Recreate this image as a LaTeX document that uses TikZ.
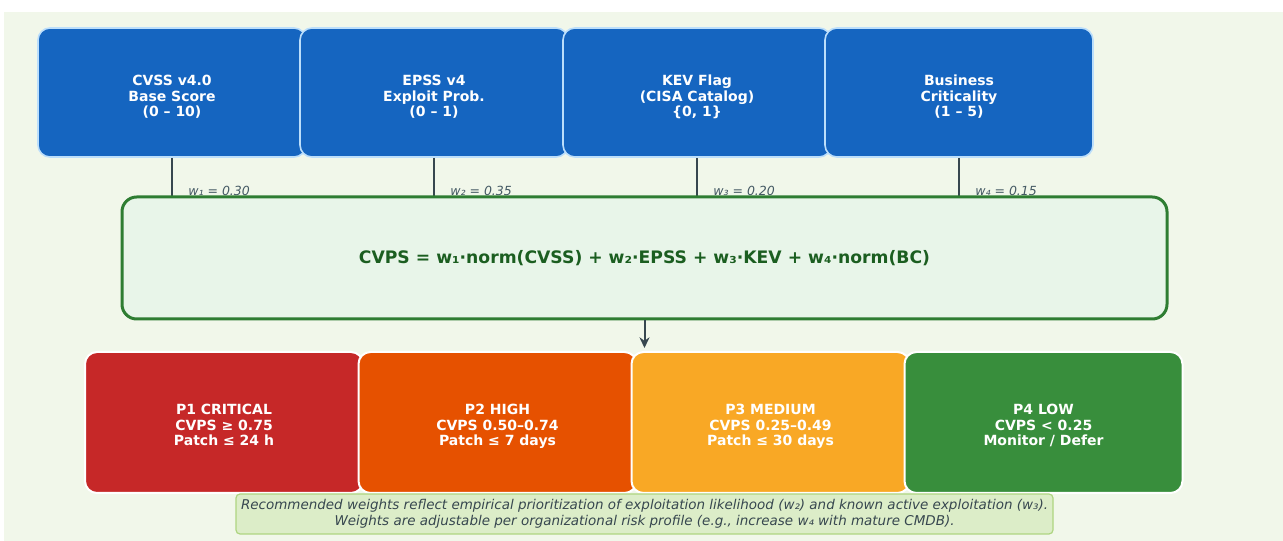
\documentclass[tikz,border=0pt]{standalone}
\usepackage{fontspec}
\setmainfont{DejaVu Sans}
\usetikzlibrary{arrows.meta}

\definecolor{bgc}{HTML}{F1F7EA}
\definecolor{inblue}{HTML}{1565C0}
\definecolor{inedge}{HTML}{BBDEFB}
\definecolor{slate}{HTML}{37474F}
\definecolor{labgray}{HTML}{455A64}
\definecolor{fmfill}{HTML}{E8F5E9}
\definecolor{fmedge}{HTML}{2E7D32}
\definecolor{fmtext}{HTML}{1B5E20}
\definecolor{pone}{HTML}{C62828}
\definecolor{ptwo}{HTML}{E65100}
\definecolor{pthree}{HTML}{F9A825}
\definecolor{pfour}{HTML}{388E3C}
\definecolor{notefill}{HTML}{DCEDC8}
\definecolor{noteedge}{HTML}{AED581}

\tikzset{
  inputbox/.style={fill=inblue, draw=inedge, line width=1.2pt, rounded corners=9pt,
    minimum width=201pt, minimum height=96.75pt, inner sep=0pt},
  formulabox/.style={fill=fmfill, draw=fmedge, line width=2.25pt, rounded corners=11pt,
    minimum width=783.75pt, minimum height=91.5pt, inner sep=0pt,
    text=fmtext, font=\bfseries\fontsize{12.9}{15}\selectfont},
  prioritybox/.style={draw=white, line width=1.5pt, rounded corners=9pt,
    minimum width=208.5pt, minimum height=105.75pt, inner sep=0pt},
  boxtext/.style={anchor=base, inner sep=0pt, align=center, text=white,
    font=\bfseries\fontsize{10.5}{11.8}\selectfont},
  weightlabel/.style={anchor=base west, inner sep=0pt, text=labgray,
    font=\itshape\fontsize{9.4}{11}\selectfont},
  feed/.style={draw=slate, line width=1.5pt},
  notebox/.style={fill=notefill, draw=noteedge, line width=0.9pt, rounded corners=3pt,
    minimum width=612.75pt, minimum height=30pt, inner sep=0pt, align=center,
    text=slate, font=\itshape\fontsize{10.1}{12}\selectfont}
}

\begin{document}
\begin{tikzpicture}[x=0.75pt, y=-0.75pt]
\useasboundingbox (0,0) rectangle (1283,541);
\fill[bgc] (4,12) rectangle (1283,541);

% input factors; text hangs from the last line's baseline so every box lines up
\node[inputbox] (in1) at (172,92.5) {};
\node[boxtext] (in1t) at (in1 |- 0,117) {CVSS v4.0\\Base Score\\(0 – 10)};
\node[inputbox] (in2) at (434,92.5) {};
\node[boxtext] (in2t) at (in2 |- 0,117) {EPSS v4\\Exploit Prob.\\(0 – 1)};
\node[inputbox] (in3) at (697,92.5) {};
\node[boxtext] (in3t) at (in3 |- 0,117) {KEV Flag\\(CISA Catalog)\\\{0, 1\}};
\node[inputbox] (in4) at (959,92.5) {};
\node[boxtext] (in4t) at (in4 |- 0,117) {Business\\Criticality\\(1 – 5)};

% weight labels (tucked under the formula box edge)
\node[weightlabel] (w1) at (188,196) {w₁ = 0.30};
\node[weightlabel] (w2) at (450,196) {w₂ = 0.35};
\node[weightlabel] (w3) at (713,196) {w₃ = 0.20};
\node[weightlabel] (w4) at (975,196) {w₄ = 0.15};

% composite score
\coordinate (ftop) at (644.5,197);
\foreach \i in {1,...,4}{
  \draw[feed] (in\i.south) -- (in\i.south |- ftop);
}
\node[formulabox] (f) at (644.5,258)
  {CVPS = w₁·norm(CVSS) + w₂·EPSS + w₃·KEV + w₄·norm(BC)};

\coordinate (tip) at (644.5,348);
\draw[feed, -{Stealth[length=8pt,width=7.5pt]}] (f.south) -- (tip);

% priority tiers
\node[prioritybox, fill=pone] (p1) at (224,422.5) {};
\node[boxtext] (p1t) at (p1 |- 0,446) {P1 CRITICAL\\CVPS ≥ 0.75\\Patch ≤ 24 h};
\node[prioritybox, fill=ptwo] (p2) at (497.5,422.5) {};
\node[boxtext] (p2t) at (p2 |- 0,446) {P2 HIGH\\CVPS 0.50–0.74\\Patch ≤ 7 days};
\node[prioritybox, fill=pthree] (p3) at (770.5,422.5) {};
\node[boxtext] (p3t) at (p3 |- 0,446) {P3 MEDIUM\\CVPS 0.25–0.49\\Patch ≤ 30 days};
\node[prioritybox, fill=pfour] (p4) at (1043.5,422.5) {};
\node[boxtext] (p4t) at (p4 |- 0,446) {P4 LOW\\CVPS < 0.25\\Monitor / Defer};

% footnote
\node[notebox] (note) at (644.5,514)
  {Recommended weights reflect empirical prioritization of exploitation likelihood (w₂) and known active exploitation (w₃).\\
   Weights are adjustable per organizational risk profile (e.g., increase w₄ with mature CMDB).};
\end{tikzpicture}
\end{document}
